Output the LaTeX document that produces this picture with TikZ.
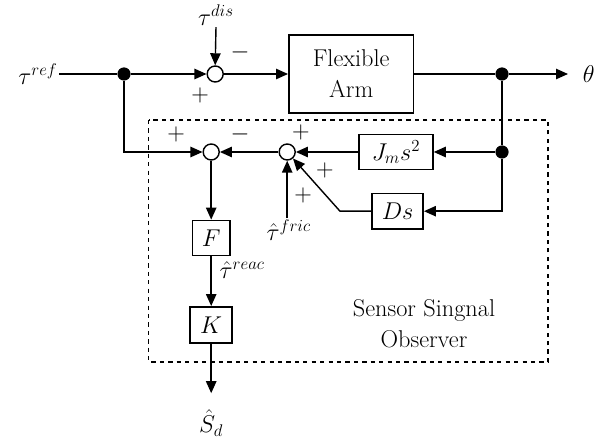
\documentclass[tikz,border=0pt]{standalone}
\usetikzlibrary{arrows.meta,positioning}
\tikzset{
  >={Triangle[length=3mm,width=2.6mm]},
  blk/.style={draw,line width=1.1pt,minimum width=#1,minimum height=8.8mm,align=center,font=\LARGE,inner sep=2pt},
  blk/.default=10mm,
  sumnode/.style={circle,draw,line width=1pt,fill=white,minimum size=4mm,inner sep=0pt},
  junc/.style={circle,fill,minimum size=3.3mm,inner sep=0pt},
  sig/.style={->,line width=1pt},
  wire/.style={line width=1pt},
  sign/.style={font=\LARGE,inner sep=1pt},
  lbl/.style={font=\LARGE,inner sep=1pt},
}
\begin{document}
\begin{tikzpicture}
  \useasboundingbox (0,0) rectangle (15.15,-10.975);
  % forward path
  \node[lbl] (tref) at (0.95,-1.85) {$\tau^{ref}$};
  \node[junc] (d1) at (3.1,-1.85) {};
  \node[sumnode] (s1) at (5.38,-1.85) {};
  \node[lbl] (tdis) at (5.4,-0.38) {$\tau^{dis}$};
  \node[blk=31.2mm,minimum height=19.5mm] (arm) at (8.78,-1.85) {Flexible\\Arm};
  \node[junc] (d2) at (12.55,-1.85) {};
  \node[lbl] (theta) at (14.72,-1.85) {$\theta$};
  \coordinate (out) at (14.2,-1.85);
  \draw[wire] (tref.east) -- (d1);
  \draw[sig] (d1) -- (s1);
  \draw[sig] (tdis.south) -- (s1.north);
  \draw[sig] (s1) -- (arm.west);
  \draw[wire] (arm.east) -- (d2);
  \draw[sig] (d2) -- (out);
  \node[sign] at (6.0,-1.32) {$-$};
  \node[sign] at (5.0,-2.38) {$+$};
  % observer
  \draw[line width=0.9pt,dashed] (3.72,-3.0) rectangle (13.7,-9.05);
  \node[junc] (d3) at (12.55,-3.8) {};
  \node[blk=18.5mm] (jm) at (9.9,-3.8) {$J_m s^2$};
  \node[blk=12.8mm] (ds) at (9.94,-5.28) {$Ds$};
  \node[sumnode] (s2) at (7.18,-3.8) {};
  \node[sumnode] (s3) at (5.28,-3.8) {};
  \node[lbl] (fric) at (7.22,-5.75) {$\hat{\tau}^{fric}$};
  \node[blk=9.3mm] (f) at (5.28,-5.95) {$F$};
  \node[blk=10.5mm,minimum height=9mm] (k) at (5.28,-8.12) {$K$};
  \node[lbl,anchor=west] (reac) at (5.45,-6.75) {$\hat{\tau}^{reac}$};
  \node[lbl] (sd) at (5.28,-10.58) {$\hat{S}_d$};
  \coordinate (sdend) at (5.28,-9.83);
  \coordinate (dsbend) at (8.5,-5.28);
  \draw[wire] (d2) -- (d3);
  \draw[sig] (d3) -- (jm.east);
  \draw[sig] (d3) |- (ds.east);
  \draw[sig] (jm.west) -- (s2);
  \draw[sig] (ds.west) -- (dsbend) -- (s2);
  \draw[sig] (s2 |- fric.north) -- (s2.south);
  \draw[sig] (s2) -- (s3);
  \draw[sig] (d1) |- (s3);
  \draw[sig] (s3) -- (f.north);
  \draw[sig] (f.south) -- (k.north);
  \draw[sig] (k.south) -- (sdend);
  \node[sign] at (4.4,-3.35) {$+$};
  \node[sign] at (6.0,-3.35) {$-$};
  \node[sign] at (7.52,-3.32) {$+$};
  \node[sign] at (8.12,-4.25) {$+$};
  \node[sign] at (7.58,-4.88) {$+$};
  \node[font=\LARGE,align=center] (obs) at (10.6,-8.1) {Sensor Singnal\\Observer};
\end{tikzpicture}
\end{document}
